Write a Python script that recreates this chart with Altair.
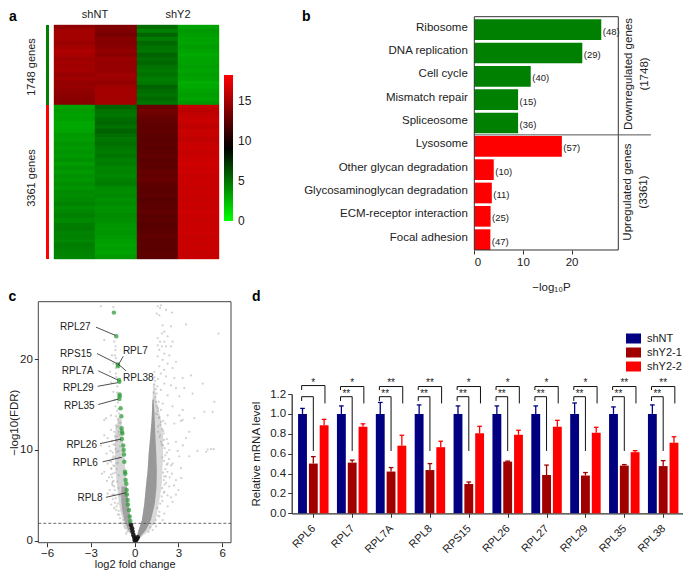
import altair as alt
import pandas as pd

W, H = 675, 562
FONT = "Liberation Sans"
INK = "#222222"

# ---------- panel a values ----------
col1_top = [14.2,14.9,15.0,14.9,14.6,14.9,15.3,15.1,14.7,15.0,14.8,15.0,14.5,14.8,14.4,14.5,14.2,14.1,14.0,13.9]
col2_top = [13.7,13.6,13.4,13.9,13.8,14.0,14.3,14.0,14.6,14.4,14.5,14.4,14.8,14.7,14.3,14.8,15.0,15.0,15.0,14.9]
col3_top = [5.2,4.5,5.5,4.6,5.4,5.0,4.9,5.6,5.2,5.4,5.0,4.8,5.0,4.6,4.8,5.6,5.2,5.0,5.3,4.9]
col4_top = [3.3,3.6,3.4,3.3,3.2,3.5,3.3,3.0,3.2,3.3,3.4,3.2,3.4,3.3,2.9,3.0,3.3,3.4,3.2,3.6]
col1_bot = [3.2,3.5,3.3,3.4,3.1,3.1,3.2,3.6,3.5,3.7,3.6,3.8,3.6,3.9,3.5,3.9,3.6,3.9,3.7,4.0,3.8,4.1,4.0,4.2,4.4,4.0,4.3,4.5,4.2,4.6,4.7,4.4,4.5,4.3,4.6,4.5,4.4,4.3]
col2_bot = [5.5,5.0,4.8,5.2,5.4,5.0,5.6,5.2,4.9,5.1,4.8,4.6,4.9,4.5,4.6,4.3,4.4,4.2,4.5,4.6,4.1,4.0,4.2,3.9,4.1,3.8,3.9,4.1,3.9,3.7,3.6,3.8,3.6,3.4,3.3,3.4,3.3,3.6]
col3_bot = [12.8,13.2,12.9,12.7,12.6,12.5,12.6,12.4,12.3,12.5,12.3,12.4,12.6,12.3,12.5,12.4,12.7,12.6,12.8,12.5,12.3,12.3,12.4,12.2,12.3,12.4,12.6,12.3,12.4,12.2,12.3,12.4,12.6,12.3,12.4,12.3,12.5,12.4]
col4_bot = [16.1,15.8,16.0,16.2,16.2,15.9,16.2,16.2,16.0,16.2,16.3,16.1,16.3,16.4,16.5,16.3,16.4,16.2,16.3,16.3,16.2,16.3,16.3,16.2,16.3,16.2,16.4,16.3,16.2,16.3,16.3,16.4,16.2,16.3,16.2,16.3,16.1,16.2]
DOWN_N, UP_N = 1748, 3361

# ---------- panel b values ----------
terms = ["Ribosome","DNA replication","Cell cycle","Mismatch repair","Spliceosome","Lysosome",
         "Other glycan degradation","Glycosaminoglycan degradation","ECM-receptor interaction","Focal adhesion"]
logp = [26.1,22.2,11.6,9.0,9.0,18.0,4.0,3.6,3.35,3.3]
gene_counts = [48,29,40,15,36,57,10,11,25,47]
term_groups = ["down"]*5 + ["up"]*5

# ---------- panel c values ----------
gray_x = [1.58,1.80,1.74,2.15,2.56,1.51,1.69,1.92,2.49,3.52,5.75,2.03,1.87,2.26,1.58,1.74,2.03,2.60,1.58,1.87,2.15,2.49,1.69,2.03,2.37,1.58,1.92,2.26,2.83,1.69,2.03,2.60,1.35,1.80,2.15,2.72,3.29,3.86,2.03,2.49,2.83,3.40,4.66,1.80,2.26,3.06,3.97,5.46,1.92,2.60,3.29,4.77,1.80,2.26,3.06,4.09,5.34,2.72,3.29,
          -2.31,-1.46,-2.08,-1.39,-1.32,-1.55,-1.28,-1.46,-1.69,-1.28,-1.60,-1.46,-1.37,-1.32,-1.62,-1.96,-1.28,-2.08,
          3.17,3.74,3.52,2.83,5.23,5.41,3.74,3.06,2.37,2.26,2.60,3.17,2.03,2.83,2.37,2.03,2.49,2.83,2.26,2.03,1.69,1.92,1.46,1.23,
          -1.16,-1.28,-1.62,-2.08,-2.31,-1.85,-1.74,-1.92,-1.51,-1.85,-2.08,-2.24,-1.62,-1.51,-1.39,-1.51,-1.16,-1.28,-1.05,-0.78,-0.82,-0.64,-0.59,-1.39,-1.28,
          1.75,1.9,1.6,2.0,1.7,2.2,1.8,1.95,2.3,1.6,1.55,1.7,1.95,2.1,1.65,1.5,1.55,1.6,2.1,2.35,2.5,2.25,2.4,2.15,2.55,2.7,2.25,2.6,3.0,3.2,2.95,3.3,4.9,4.3,5.0,
          -1.1,-1.4,-1.2,-1.55,-1.35,-1.65,-1.2,-1.45,-1.7,-1.25,-1.6,-1.35,-1.75,-1.9,-1.55,-1.7,-1.85,-1.5,-1.6,-1.4,-1.2,-1.15,-1.2,-1.18,-1.25,-1.3,-1.35,-1.3,
          0.95,1.05,1.3,1.45,1.6,1.7,1.55,1.75,1.9,1.85,2.0,1.9,2.05,2.0,2.15,1.95,2.1,2.2,2.0,1.9,2.2,2.05,1.85,2.0,1.75,1.95,1.6,1.8,1.65,1.45,1.6,1.5,1.45,1.4,1.3,1.45,1.35,1.4,1.35,1.25,1.3,
          -0.72,-0.95,-1.0,-1.15,-1.1,-1.25,-1.35,-1.3,-1.4,-1.35,-1.5,-1.45,-1.55,-1.5,-1.6,-1.45,-1.6,-1.35,-1.5,-1.3,-1.45,-1.2,-1.35,-1.1,-1.25,-1.05,-1.1,-1.05,-1.1,-0.5,
          -1.0,-1.1,-1.2,-1.1,-1.25,-1.15,-1.05,-1.1,-1.0,-0.95,-1.05,-0.95,-0.95]
gray_y = [25.8,25.9,25.6,25.4,25.1,25.0,24.8,23.7,23.6,23.8,22.8,23.0,22.8,22.5,22.3,21.9,21.9,21.9,21.5,21.4,21.4,21.4,21.0,20.6,20.4,20.3,19.9,19.5,19.7,19.2,18.8,19.0,18.6,18.4,18.1,17.9,17.9,18.2,17.3,17.1,16.8,16.8,17.3,16.6,16.0,15.9,16.2,15.3,15.1,14.8,14.4,14.2,14.4,13.8,13.8,13.5,14.2,12.9,13.3,
          25.8,25.7,22.1,21.9,21.0,20.4,20.1,19.5,18.6,18.4,17.4,16.4,15.5,14.8,13.8,13.5,13.7,13.3,
          13.2,12.0,11.3,10.9,10.1,10.1,9.3,9.3,10.0,8.5,8.5,8.0,7.1,6.7,6.0,5.4,4.8,5.1,3.8,3.0,2.7,2.3,1.6,1.2,
          13.3,12.7,12.2,11.6,10.5,11.3,10.4,9.6,9.1,8.5,7.6,7.4,7.3,6.5,6.0,5.1,4.1,3.4,2.9,2.3,1.9,1.4,0.8,8.2,11.1,
          12.8,12.3,12.0,11.8,11.4,11.2,10.9,10.5,10.7,14.6,13.9,13.6,13.2,12.9,15.3,16.2,17.0,17.8,9.4,9.0,8.3,7.6,7.0,6.4,7.4,6.1,5.0,4.3,5.6,6.9,9.9,10.5,9.8,9.9,10.05,
          12.6,12.0,11.5,11.0,10.6,9.9,9.8,9.3,8.8,8.5,8.0,7.5,7.0,6.6,6.3,5.6,5.2,4.6,4.0,3.6,14.3,15.2,16.3,17.0,18.0,19.0,20.4,21.4,
          1.0,1.5,1.9,2.3,2.8,3.2,3.6,4.1,4.4,4.9,5.3,5.8,6.2,6.7,7.1,7.5,7.9,8.4,8.8,9.2,9.7,10.2,10.6,11.1,11.6,12.1,12.6,13.1,13.5,14.0,14.3,14.8,15.3,15.8,16.3,16.7,17.2,17.6,18.0,14.9,15.5,
          1.6,2.0,2.5,2.9,3.3,3.8,4.2,4.7,5.1,5.6,6.1,6.6,7.0,7.4,7.9,8.3,8.7,9.2,9.7,10.1,10.6,11.0,11.5,12.0,12.5,13.0,13.5,14.0,14.5,1.0,
          5.0,5.8,6.5,7.2,7.9,8.6,9.2,9.9,10.4,11.0,11.7,12.3,13.0]

right_y = [0.1,1.2,2.3,4.1,6.0,7.8,9.6,11.5,13.3,15.5,17.3]
right_inner = [0.09,0.27,0.50,0.66,0.77,0.89,0.96,1.07,1.16,1.22,1.27]
right_core = [0.20,0.77,1.12,1.38,1.50,1.52,1.48,1.42,1.38,1.30,1.30]
right_mid = [0.20,1.05,1.45,1.65,1.85,1.90,1.95,1.95,1.80,1.50,1.35]

left_y = [0.8,1.2,2.3,3.4,4.5,6.0,7.8,9.6,11.5,12.4,13.5]
left_inner = [-0.13,-0.20,-0.28,-0.37,-0.46,-0.54,-0.64,-0.71,-0.84,-0.87,-0.90]
left_core = [-0.20,-0.45,-0.70,-0.85,-0.92,-0.90,-0.85,-0.85,-0.92,-0.95,-0.95]
left_mid = [-0.31,-0.55,-0.80,-1.00,-1.10,-1.20,-1.30,-1.35,-1.35,-1.30,-1.10]

black_x = [-0.25,-0.18,-0.14,-0.09,-0.02,0.05,0.14,0.21,0.0,0.07]
black_y = [1.76,1.39,1.03,0.66,0.40,0.18,0.18,0.40,0.10,0.05]

green_x = [-1.42,-1.26,-1.16,-1.14,-1.07,-1.05,-1.03,-1.03,-1.05,-0.96,-0.91,-0.89,-0.87,-0.84,-0.87,-0.78,-0.75,-0.73,-0.71,-0.66,-0.64,-0.62,-0.57,-0.55,-0.53,-0.48,-0.46,-0.39,-0.34,-0.30]
green_y = [25.1,22.5,19.4,19.2,17.7,17.5,16.1,15.9,15.6,14.6,13.7,12.4,12.0,11.8,11.2,10.5,10.0,9.5,8.7,7.6,7.4,6.7,6.3,5.6,5.1,4.5,4.0,3.4,2.7,2.2]

label_names = ["RPL27","RPS15","RPL7","RPL38","RPL7A","RPL29","RPL35","RPL26","RPL6","RPL8"]
label_x = [-4.06,-4.02,0.05,0.25,-3.90,-3.86,-3.79,-3.63,-3.38,-3.06]
label_y = [23.5,20.6,20.9,17.9,18.7,16.8,14.8,10.55,8.6,4.7]
leader_x1 = [-2.65,-2.58,-0.78,-1.16,-2.49,-2.53,-2.49,-2.37,-2.19,-1.96]
leader_y1 = [23.5,20.6,20.3,19.5,18.7,17.0,15.0,10.7,8.7,4.8]
leader_x2 = [-1.32,-1.21,-1.10,-0.59,-1.16,-1.16,-1.12,-0.94,-0.87,-0.59]
leader_y2 = [22.6,19.5,19.4,18.7,17.7,17.4,15.6,11.2,9.2,5.3]
FDR_CUT = 1.94

# ---------- panel d values ----------
genes = ["RPL6","RPL7","RPL7A","RPL8","RPS15","RPL26","RPL27","RPL29","RPL35","RPL38"]
series = ["shNT","shY2-1","shY2-2"]
series_colors = ["#000080","#a00000","#ff0000"]
nt_mean = [1.0]*10
nt_err = [1.055,1.08,1.115,1.09,1.08,1.08,1.08,1.11,1.07,1.09]
y1_mean = [0.50,0.51,0.42,0.435,0.295,0.52,0.385,0.38,0.48,0.475]
y1_err = [0.57,0.535,0.46,0.50,0.315,0.525,0.485,0.41,0.49,0.53]
y2_mean = [0.885,0.87,0.68,0.665,0.805,0.79,0.87,0.81,0.615,0.71]
y2_err = [0.945,0.90,0.785,0.725,0.875,0.835,0.935,0.865,0.63,0.77]
outer_sig = ["*","*","**","**","*","*","*","*","**","**"]
inner_sig = ["","**","**","**","**","**","**","**","**","**"]
d_ticks = [0.0,0.2,0.4,0.6,0.8,1.0,1.2]

# ---------- scales (pixel ranges inside one canvas) ----------
a_x = alt.Scale(domain=[0,4], range=[46.3,211], round=True)
a_y = alt.Scale(domain=[0,DOWN_N+UP_N], range=[17,251], round=True)
a_color = alt.Scale(domain=[-0.05,9.1,18.2], range=["#00ff00","#000000","#ff0000"], interpolate="rgb")
b_x = alt.Scale(domain=[0,29.6], range=[466.3,610.3])
b_band = alt.Scale(domain=terms, range=[10,243.3], paddingInner=0.113, paddingOuter=0.056)
b_num = alt.Scale(domain=[0,10], range=[10,243.3])
c_x = alt.Scale(domain=[-6.6,6.6], range=[30.3,223])
c_y = alt.Scale(domain=[-0.19,26.3], range=[534.7,293.7])
d_x = alt.Scale(domain=[-0.556,9.51], range=[283.7,675])
d_y = alt.Scale(domain=[0,1.2], range=[505.3,386])
d_color = alt.Scale(domain=series, range=series_colors)

def qx(field, scale): return alt.X(f"{field}:Q", scale=scale, axis=None, title=None)
def qy(field, scale): return alt.Y(f"{field}:Q", scale=scale, axis=None, title=None)
def qx2(field): return alt.X2(f"{field}:Q")
def qy2(field): return alt.Y2(f"{field}:Q")
def text_layer(df, sx, sy, size=11, color=INK, **kw):
    return alt.Chart(df).mark_text(fontSize=size, font=FONT, color=color, **kw).encode(
        x=qx("x", sx), y=qy("y", sy), text="t:N")
def axis_style(**kw):
    base = dict(labelFont=FONT, titleFont=FONT, labelFontSize=11.5, titleFontSize=11.5, titleFontWeight="normal",
                labelColor=INK, titleColor=INK, domainColor="#333333", tickColor="#333333", grid=False,
                tickSize=4, labelPadding=2)
    base.update(kw)
    return alt.Axis(**base)

layers = []

# ---------- a ----------
rows = []
for c, vals in enumerate([col1_top, col2_top, col3_top, col4_top]):
    for r, v in enumerate(vals):
        rows.append(dict(x=c, x1=c+1, y=r*DOWN_N/len(vals), y1=(r+1)*DOWN_N/len(vals), v=v))
for c, vals in enumerate([col1_bot, col2_bot, col3_bot, col4_bot]):
    for r, v in enumerate(vals):
        rows.append(dict(x=c, x1=c+1, y=DOWN_N+r*UP_N/len(vals), y1=DOWN_N+(r+1)*UP_N/len(vals), v=v))
layers.append(alt.Chart(pd.DataFrame(rows)).mark_rect(strokeWidth=0.4).encode(
    x=qx("x", a_x), x2=qx2("x1"), y=qy("y", a_y), y2=qy2("y1"),
    stroke=alt.Stroke("v:Q", scale=a_color, legend=None),
    color=alt.Color("v:Q", scale=a_color, legend=alt.Legend(
        orient="none", legendX=216, legendY=67, title=None, gradientLength=146, gradientThickness=9,
        values=[0,5,10,15], labelFont=FONT, labelFontSize=12, labelColor=INK, labelOffset=5,
        direction="vertical", padding=0, gradientStrokeWidth=0, tickCount=4))))
strips = pd.DataFrame(dict(x=[-0.2,-0.2], x1=[-0.125,-0.125], y=[0,DOWN_N], y1=[DOWN_N,DOWN_N+UP_N], c=["#008000","#ff0000"]))
layers.append(alt.Chart(strips).mark_rect().encode(
    x=qx("x", a_x), x2=qx2("x1"), y=qy("y", a_y), y2=qy2("y1"), color=alt.Color("c:N", scale=None)))
layers.append(text_layer(pd.DataFrame(dict(x=[1,3], y=[-225,-225], t=["shNT","shY2"])), a_x, a_y))
layers.append(text_layer(pd.DataFrame(dict(x=[-0.54], y=[910], t=["1748 genes"])), a_x, a_y, angle=270))
layers.append(text_layer(pd.DataFrame(dict(x=[-0.54], y=[3330], t=["3361 genes"])), a_x, a_y, angle=270))

# ---------- b ----------
b_df = pd.DataFrame(dict(term=terms, p=logp, n=[f"({n})" for n in gene_counts], g=term_groups))
layers.append(alt.Chart(b_df).mark_bar().encode(
    x=alt.X("p:Q", scale=b_x, title="\u2212log\u2081\u2080P", axis=axis_style(
        orient="bottom", offset=242-H, values=[0,10,20], titlePadding=14, titleX=543, domain=False)),
    y=alt.Y("term:N", scale=b_band, sort=terms, title=None, axis=alt.Axis(
        orient="left", offset=-466.3, ticks=False, domain=False, labelFont=FONT, labelFontSize=11.5,
        labelColor=INK, labelPadding=7, labelOffset=-2, labelLimit=300)),
    color=alt.Color("g:N", scale=alt.Scale(domain=["down","up"], range=["#008000","#ff0000"]), legend=None)))
layers.append(alt.Chart(b_df).mark_text(align="left", dx=1.5, dy=2, fontSize=9.5, font=FONT, color=INK).encode(
    x=qx("p", b_x), y=alt.Y("term:N", scale=b_band, sort=terms, axis=None, title=None), text="n:N"))
frame_b = pd.DataFrame(dict(x=[0], x1=[29.6], y=[-0.056], y1=[9.944]))
layers.append(alt.Chart(frame_b).mark_rect(fill="transparent", stroke="#333333", strokeWidth=1).encode(
    x=qx("x", b_x), x2=qx2("x1"), y=qy("y", b_num), y2=qy2("y1")))
layers.append(alt.Chart(pd.DataFrame(dict(x=[0], x1=[36.3], y=[5.01]))).mark_rule(color="#555555", strokeWidth=1).encode(
    x=qx("x", b_x), x2=qx2("x1"), y=qy("y", b_num)))
side = pd.DataFrame(dict(x=[31.8,35.05,31.6,34.9], y=[2.4,2.4,7.46,7.46],
                         t=["Downregulated genes","(1748)","Upregulated genes","(3361)"]))
layers.append(text_layer(side, b_x, b_num, size=11.5, angle=270))

# ---------- c ----------
c_frame = pd.DataFrame(dict(x=[-6.6], x1=[6.6], y=[-0.19], y1=[26.3]))
c_mid_r = pd.DataFrame(dict(y=right_y, a=right_inner, b=right_mid))
c_core_r = pd.DataFrame(dict(y=right_y[:10], a=right_inner[:10], b=right_core[:10]))
c_mid_l = pd.DataFrame(dict(y=left_y, a=left_inner, b=left_mid))
c_core_l = pd.DataFrame(dict(y=left_y[:6], a=left_inner[:6], b=left_core[:6]))
for df, op in [(c_mid_r,0.35),(c_mid_l,0.4),(c_core_r,0.95),(c_core_l,0.8)]:
    layers.append(alt.Chart(df).mark_area(orient="horizontal", color="#959595", opacity=op).encode(
        y=qy("y", c_y), x=qx("a", c_x), x2=qx2("b")))
layers.append(alt.Chart(pd.DataFrame(dict(x=gray_x, y=gray_y))).mark_circle(size=5, color="#999999", opacity=0.45).encode(
    x=qx("x", c_x), y=qy("y", c_y)))
layers.append(alt.Chart(pd.DataFrame(dict(x=black_x, y=black_y))).mark_circle(size=22, color="#111111", opacity=0.9).encode(
    x=qx("x", c_x), y=qy("y", c_y)))
layers.append(alt.Chart(pd.DataFrame(dict(x=green_x, y=green_y))).mark_circle(size=20, color="#2f9e3a", opacity=0.75).encode(
    x=qx("x", c_x), y=qy("y", c_y)))
layers.append(alt.Chart(pd.DataFrame(dict(x=[-6.6], x1=[6.6], y=[FDR_CUT]))).mark_rule(color="#444444", strokeWidth=0.8, strokeDash=[3,2]).encode(
    x=qx("x", c_x), x2=qx2("x1"), y=qy("y", c_y)))
layers.append(alt.Chart(pd.DataFrame(dict(x=leader_x1, x1=leader_x2, y=leader_y1, y1=leader_y2))).mark_rule(color="#222222", strokeWidth=0.8).encode(
    x=qx("x", c_x), x2=qx2("x1"), y=qy("y", c_y), y2=qy2("y1")))
layers.append(text_layer(pd.DataFrame(dict(x=label_x, y=label_y, t=label_names)), c_x, c_y, size=10))
layers.append(alt.Chart(c_frame).mark_rect(fill="transparent", stroke="#444444", strokeWidth=1).encode(
    x=alt.X("x:Q", scale=c_x, title="log2 fold change", axis=axis_style(
        orient="bottom", offset=534.7-H, values=[-6,-3,0,3,6], format="d", titlePadding=-1, labelPadding=1, titleFontSize=11, domain=False)),
    x2=qx2("x1"),
    y=alt.Y("y:Q", scale=c_y, title="\u2212log10(FDR)", axis=axis_style(
        orient="left", offset=-30.3, values=[0,10,20], format="d", titlePadding=0, domain=False)),
    y2=qy2("y1")))

# ---------- d ----------
BAR_OFF = [-0.278,0.0,0.278]
BAR_HALF = 0.114
bars, errs = [], []
for s, off, means, tops in zip(series, BAR_OFF, [nt_mean,y1_mean,y2_mean], [nt_err,y1_err,y2_err]):
    for i, (m, t) in enumerate(zip(means, tops)):
        bars.append(dict(x=i+off-BAR_HALF, x1=i+off+BAR_HALF, y=0, y1=m, s=s))
        errs.append(dict(x=i+off, x1=i+off, y=m, y1=t, s=s))
        errs.append(dict(x=i+off-0.06, x1=i+off+0.06, y=t, y1=t, s=s))
d_legend = alt.Legend(orient="none", legendX=620, legendY=325, title=None, symbolType="M-1.5,-1L1.5,-1L1.5,1L-1.5,1Z",
                      symbolSize=100, symbolStrokeWidth=0, labelFont=FONT, labelFontSize=11, labelColor=INK,
                      rowPadding=2, padding=0, labelOffset=8)
layers.append(alt.Chart(pd.DataFrame(errs)).mark_rule(strokeWidth=1.3).encode(
    x=qx("x", d_x), x2=qx2("x1"), y=qy("y", d_y), y2=qy2("y1"),
    color=alt.Color("s:N", scale=d_color, legend=None)))
layers.append(alt.Chart(pd.DataFrame(bars)).mark_rect().encode(
    x=alt.X("x:Q", scale=d_x, title=None, axis=axis_style(
        orient="bottom", offset=505.3-H, values=list(range(10)), labelAngle=-45, labelAlign="right", labelBaseline="top",
        labelExpr="['" + "','".join(genes) + "'][datum.value]", domainWidth=1.3, labelOverlap=False, labelFontSize=11,
        labelPadding=5, labelOffset=-4)),
    x2=qx2("x1"),
    y=alt.Y("y:Q", scale=d_y, title="Relative mRNA level", axis=axis_style(
        orient="left", offset=-283.7, values=d_ticks, format=".1f", domainWidth=1.3, titlePadding=8)),
    y2=qy2("y1"),
    color=alt.Color("s:N", scale=d_color, legend=d_legend)))

OUT_TOP, OUT_L, OUT_R = 1.275, 1.24, 1.105
INN_TOP, INN_L, INN_R = 1.173, 1.13, 0.627
LEFT, MID, RIGHT = -0.30, 0.0, 0.30
br = []
for i in range(10):
    top = OUT_TOP + (0.01 if i == 0 else 0)
    br += [dict(x=i+LEFT, x1=i+RIGHT, y=top, y1=top),
           dict(x=i+LEFT, x1=i+LEFT, y=top, y1=OUT_L),
           dict(x=i+RIGHT, x1=i+RIGHT, y=top, y1=OUT_R),
           dict(x=i+LEFT, x1=i+MID, y=INN_TOP, y1=INN_TOP),
           dict(x=i+LEFT, x1=i+LEFT, y=INN_TOP, y1=INN_L),
           dict(x=i+MID, x1=i+MID, y=INN_TOP, y1=INN_R)]
layers.append(alt.Chart(pd.DataFrame(br)).mark_rule(color="#111111", strokeWidth=1).encode(
    x=qx("x", d_x), x2=qx2("x1"), y=qy("y", d_y), y2=qy2("y1")))
stars = pd.DataFrame(dict(x=[float(i) for i in range(10)] + [i-0.15 for i in range(10)],
                          y=[1.315]*10 + [1.195]*10, t=outer_sig+inner_sig))
layers.append(text_layer(stars[stars.t != ""], d_x, d_y, size=10))

# ---------- panel letters ----------
for ltr, sx, sy, lx, ly in [("a",a_x,a_y,-1.11,-175),("b",b_x,b_num,-35.4,-0.05),("c",c_x,c_y,-8.64,26.8),("d",d_x,d_y,-1.58,2.18)]:
    layers.append(text_layer(pd.DataFrame(dict(x=[lx], y=[ly], t=[ltr])), sx, sy, size=14, color="#000000",
                             align="left", fontWeight="bold"))

chart = (alt.layer(*layers)
         .resolve_scale(x="independent", y="independent", color="independent")
         .resolve_axis(x="independent", y="independent")
         .properties(width=W, height=H, padding=0, autosize=alt.AutoSizeParams(type="none"))
         .configure_view(stroke=None))
chart.save("out.html", embed_options={"renderer": "svg", "actions": False})
